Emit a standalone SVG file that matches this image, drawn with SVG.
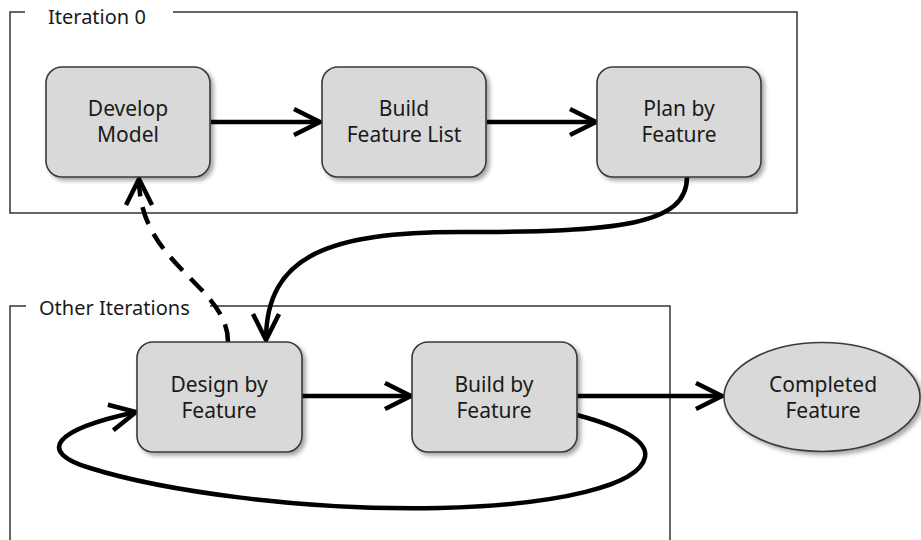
<svg xmlns="http://www.w3.org/2000/svg" width="921" height="540" viewBox="0 0 921 540">
<defs>
<filter id="sh" x="-10%" y="-10%" width="130%" height="130%">
<feDropShadow dx="3" dy="3" stdDeviation="2" flood-color="#000" flood-opacity="0.35"/>
</filter>
<marker id="arr" markerUnits="userSpaceOnUse" markerWidth="40" markerHeight="40" viewBox="-30 -20 40 40" refX="0" refY="0" orient="auto">
<path d="M-26,-13 L0,0 L-26,13" fill="none" stroke="#000" stroke-width="4.5" stroke-linejoin="miter" stroke-miterlimit="10"/>
</marker>
<style>
.frame{fill:none;stroke:#333;stroke-width:1.5}
.node{fill:#d9d9d9;stroke:#3a3a3a;stroke-width:1.6;filter:url(#sh)}
.lbl{font-family:"Noto Sans","Lato",sans-serif;font-size:21px;fill:#1a1a1a;text-anchor:middle}
.flbl{font-family:"Noto Sans","Lato",sans-serif;font-size:20px;fill:#1a1a1a}
.con{fill:none;stroke:#000;stroke-width:4.5;marker-end:url(#arr)}
.dash{stroke-dasharray:18 11}
</style>
</defs>
<rect width="921" height="540" fill="#fff"/>
<g id="frame-iteration0">
<path class="frame" d="M25,12 L10,12 L10,213 L797,213 L797,12 L173,12"/>
<text class="flbl" x="48" y="24">Iteration 0</text>
</g>
<g id="frame-other">
<path class="frame" d="M26,306 L10,306 L10,545 M670,545 L670,306 L210,306"/>
<text class="flbl" x="39" y="315">Other Iterations</text>
</g>
<g id="connectors">
<path class="con" d="M211,122 L320,122"/>
<path class="con" d="M487,122 L596,122"/>
<path class="con" d="M687,177 C687,225 620,232 460,232 C330,232 266,255 266,340"/>
<path class="con dash" d="M228,342 C228,285 139,265 139,179"/>
<path class="con" d="M302,396 L411,396"/>
<path class="con" d="M577,396 L722,396"/>
<path class="con" d="M577,415 C625,428 648,442 645,457 C640,485 560,505 440,508 C300,511 160,490 90,468 C37,452 52,430 136,412"/>
</g>
<g id="node-develop">
<rect class="node" x="46" y="67" width="164" height="110" rx="16"/>
<text class="lbl" x="128" y="116">Develop</text>
<text class="lbl" x="128" y="142">Model</text>
</g>
<g id="node-buildlist">
<rect class="node" x="322" y="67" width="164" height="110" rx="16"/>
<text class="lbl" x="404" y="116">Build</text>
<text class="lbl" x="404" y="142">Feature List</text>
</g>
<g id="node-plan">
<rect class="node" x="597" y="67" width="164" height="110" rx="16"/>
<text class="lbl" x="679" y="116">Plan by</text>
<text class="lbl" x="679" y="142">Feature</text>
</g>
<g id="node-design">
<rect class="node" x="137" y="342" width="165" height="110" rx="16"/>
<text class="lbl" x="219" y="392">Design by</text>
<text class="lbl" x="219" y="418">Feature</text>
</g>
<g id="node-buildfeature">
<rect class="node" x="412" y="342" width="165" height="110" rx="16"/>
<text class="lbl" x="494" y="392">Build by</text>
<text class="lbl" x="494" y="418">Feature</text>
</g>
<g id="node-completed">
<ellipse class="node" cx="822" cy="397" rx="98" ry="54.5"/>
<text class="lbl" x="823" y="392">Completed</text>
<text class="lbl" x="823" y="418">Feature</text>
</g>
</svg>
